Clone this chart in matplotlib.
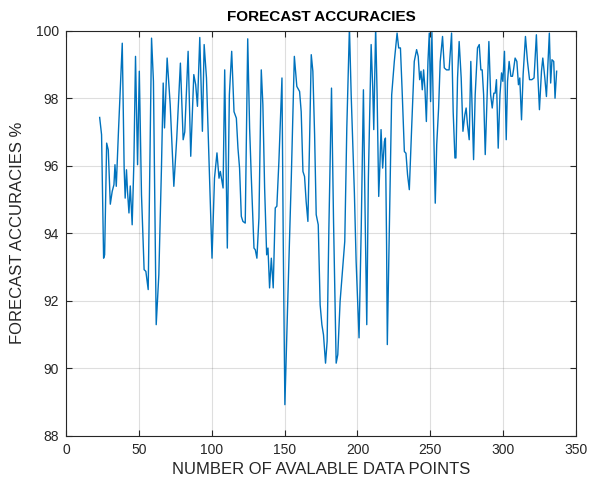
import matplotlib
matplotlib.use("Agg")
import matplotlib.pyplot as plt

# Number of available data points at each evaluation step
points = [
    23.1, 24.4, 25.8, 26.5, 27.9, 29.0, 30.4, 31.7, 32.9, 33.6, 34.5, 36.0,
    38.6, 39.9, 40.6, 41.5, 42.2, 43.2, 44.1, 45.4, 46.6, 47.7, 49.1, 50.3,
    51.8, 53.6, 54.8, 56.4, 58.7, 60.0, 61.9, 63.7, 65.5, 66.7, 67.6, 69.4,
    71.5, 74.0, 76.0, 78.5, 80.4, 81.5, 83.8, 85.6, 87.7, 89.0, 90.2, 91.8,
    93.6, 94.8, 96.4, 100.2, 101.9, 103.6, 105.0, 105.9, 107.8, 108.9, 110.7, 112.1,
    113.7, 115.3, 116.9, 118.0, 119.1, 120.3, 121.4, 123.0, 124.7, 126.0, 127.1, 129.0,
    129.9, 131.0, 132.4, 134.0, 135.1, 136.3, 137.7, 138.6, 139.7, 140.9, 142.2, 143.6,
    144.7, 146.1, 148.2, 149.1, 150.2, 152.3, 154.6, 156.7, 158.4, 160.3, 161.4, 162.6,
    163.7, 164.8, 166.0, 167.1, 168.3, 169.4, 170.6, 171.7, 173.1, 174.4, 175.6, 176.7,
    178.1, 179.2, 180.4, 182.2, 183.6, 185.4, 186.5, 188.1, 189.9, 191.3, 192.7, 194.5,
    195.7, 197.9, 199.1, 201.1, 202.6, 204.1, 205.2, 206.4, 207.5, 209.4, 210.5, 211.2,
    212.5, 213.5, 214.6, 215.5, 216.2, 217.3, 218.5, 219.2, 220.0, 220.5, 221.9, 223.5,
    225.3, 227.2, 228.3, 229.5, 230.6, 232.2, 233.3, 234.4, 235.6, 237.2, 239.0, 240.6,
    241.7, 242.7, 243.6, 244.5, 245.4, 246.3, 247.3, 248.4, 249.3, 250.2, 251.1, 252.3,
    253.4, 254.4, 255.7, 256.8, 258.4, 259.6, 261.1, 262.9, 264.6, 265.7, 266.9, 267.6,
    268.7, 269.8, 271.2, 272.4, 273.7, 274.6, 275.5, 276.7, 277.8, 278.8, 279.7, 280.8,
    282.4, 283.6, 284.7, 285.6, 286.6, 287.7, 289.0, 290.2, 291.4, 292.5, 293.6, 294.5,
    295.4, 296.6, 297.8, 298.9, 299.8, 300.9, 302.1, 303.0, 304.1, 305.3, 306.4, 307.1,
    308.2, 309.4, 310.5, 311.4, 312.6, 313.7, 315.3, 316.7, 318.1, 319.7, 321.2, 322.8,
    323.9, 324.9, 326.3, 327.2, 328.6, 329.7, 330.8, 331.7, 332.6, 333.5, 334.7, 335.6,
    336.7,
]

# Forecast accuracy (%) at each step
accuracy = [
    97.43, 96.92, 93.26, 93.36, 96.67, 96.47, 94.86, 95.24, 95.44, 96.03, 95.39, 97.02,
    99.63, 95.93, 95.04, 95.88, 95.24, 94.60, 95.40, 94.25, 96.13, 99.24, 96.03, 98.80,
    95.14, 92.92, 92.87, 92.33, 99.78, 98.50, 91.29, 92.77, 95.93, 98.45, 97.12, 99.19,
    97.81, 95.39, 96.82, 99.04, 96.77, 97.00, 99.39, 96.28, 98.70, 98.40, 97.76, 99.80,
    97.02, 99.59, 98.60, 93.26, 95.63, 96.38, 95.63, 95.83, 95.34, 98.84, 93.56, 98.10,
    99.39, 97.60, 97.41, 96.52, 95.93, 94.50, 94.35, 94.30, 99.76, 97.12, 95.73, 93.56,
    93.51, 93.26, 94.45, 98.84, 97.81, 95.34, 93.36, 93.56, 92.38, 93.26, 92.38, 94.75,
    94.80, 96.13, 98.60, 93.66, 88.92, 92.18, 95.63, 99.24, 98.35, 98.20, 97.60, 95.83,
    95.68, 94.94, 94.35, 96.62, 99.29, 98.80, 96.92, 94.55, 94.25, 91.88, 91.29, 90.99,
    90.15, 90.80, 94.15, 98.30, 94.35, 90.15, 90.40, 91.98, 92.97, 93.76, 97.12, 100.10,
    98.10, 95.20, 93.16, 90.90, 94.15, 98.25, 94.75, 91.29, 95.63, 99.59, 98.30, 97.07,
    100.10, 98.10, 95.09, 96.13, 97.07, 95.93, 96.72, 96.82, 93.66, 90.70, 94.15, 98.10,
    99.09, 99.93, 99.49, 99.49, 98.30, 96.42, 96.37, 95.73, 95.29, 97.12, 99.09, 99.44,
    99.24, 98.55, 98.80, 98.25, 98.84, 98.30, 97.31, 99.09, 99.93, 97.90, 99.95, 97.12,
    94.89, 96.62, 97.71, 99.09, 99.83, 98.90, 98.84, 98.84, 99.93, 97.60, 96.23, 96.23,
    98.60, 99.68, 98.60, 97.02, 97.51, 97.71, 97.22, 96.77, 99.09, 97.60, 96.18, 98.10,
    99.49, 99.59, 98.84, 98.84, 98.10, 96.33, 98.10, 99.68, 98.10, 97.71, 98.15, 98.15,
    98.55, 96.52, 98.10, 98.75, 98.50, 99.39, 96.77, 98.50, 99.09, 98.65, 98.65, 98.84,
    99.19, 99.09, 98.40, 98.60, 97.36, 98.70, 99.83, 99.09, 98.55, 98.55, 98.60, 99.88,
    98.60, 97.66, 98.80, 99.19, 98.60, 98.05, 99.09, 99.93, 98.45, 99.14, 99.09, 98.00,
    98.80,
]

x_ticks = [0, 50, 100, 150, 200, 250, 300, 350]
y_ticks = [88, 90, 92, 94, 96, 98, 100]

plt.rcParams["font.family"] = ["Liberation Sans", "DejaVu Sans"]

axis_color = "#262626"

fig = plt.figure(figsize=(5.92, 4.90), dpi=100)
ax = fig.add_axes([0.1115, 0.1108, 0.8615, 0.8265])

ax.plot(points, accuracy, color="#0072BD", linewidth=1.0)

ax.set_xlim(0, 350)
ax.set_ylim(88, 100)
ax.set_xticks(x_ticks)
ax.set_yticks(y_ticks)

ax.grid(True, color="#262626", alpha=0.15, linewidth=0.8)
ax.set_axisbelow(True)

ax.tick_params(direction="in", top=True, right=True, length=4, width=0.8,
               colors=axis_color, labelsize=10, pad=5)
for spine in ax.spines.values():
    spine.set_color(axis_color)
    spine.set_linewidth(0.8)

ax.set_title("FORECAST ACCURACIES", fontsize=11, fontweight="bold",
             color="black", pad=7)
ax.set_xlabel("NUMBER OF AVALABLE DATA POINTS", fontsize=12, color=axis_color,
              labelpad=4)
ax.set_ylabel("FORECAST ACCURACIES %", fontsize=12, color=axis_color,
              labelpad=8)

fig.savefig("out.png", dpi=100)
